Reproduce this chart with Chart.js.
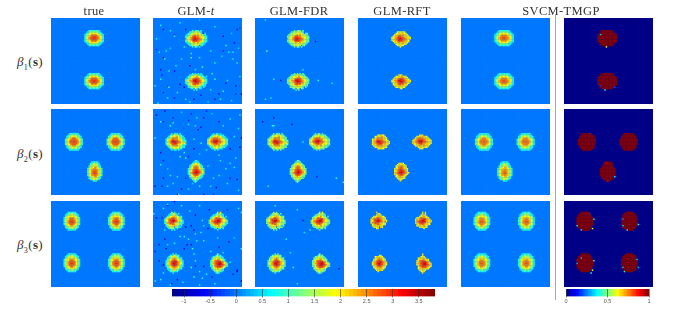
<!DOCTYPE html>
<html>
<head>
<meta charset="utf-8">
<title>Estimated coefficient maps</title>
<script src="https://cdn.jsdelivr.net/npm/chart.js@4"></script>
<style>
html, body { margin: 0; padding: 0; background: #fff; overflow: hidden; }
#page { position: relative; width: 684px; height: 312px; font-family: "Liberation Serif", serif; color: #333; }
#page canvas { position: absolute; }
.head { position: absolute; top: 4px; font-size: 12.5px; letter-spacing: 0.35px; transform: translateX(-50%); white-space: nowrap; }
.rowlab { position: absolute; left: 17px; font-size: 13px; letter-spacing: 0.35px; white-space: nowrap; }
.rowlab sub { font-size: 8px; line-height: 0; }
#divider { position: absolute; left: 555px; top: 15px; width: 1px; height: 285px; background: #a8a8a8; }
</style>
</head>
<body>
<div id="page"><div id="divider"></div></div>
<script>
// column heads and row labels
const methodLabels = ['true', 'GLM-<i>t</i>', 'GLM-FDR', 'GLM-RFT', 'SVCM-TMGP'];
const methodLabelX = [94, 196, 299, 402, 561];
const rowNames = ['1', '2', '3'];
const rowLabelY = [54, 146, 237];

// panel placement
const columnX = [51, 153, 255, 358, 461, 564];
const rowY = [18, 109, 201];
const panelW = 89;
const panelH = 86;
const gridSize = 64;

// colour bars
const mapTicks = [-1, -0.5, 0, 0.5, 1, 1.5, 2, 2.5, 3, 3.5];
const mapRange = [-1.23, 3.81];
const probTicks = [0, 0.5, 1];
const probRange = [0, 1];

// blob centres [col, row] on the 64 x 64 grid, for each row of panels
const centres = [
    [[31, 15], [31, 47]],
    [[16, 24], [46, 24], [31, 46]],
    [[15, 15], [47, 15], [15, 46], [47, 46]]
];

// smooth blobs, digits are the level
const blobWide = [
    '...11111111...',
    '..1122222211..',
    '.112333333211.',
    '11233444433211',
    '12334555543321',
    '12345566554321',
    '12345566554321',
    '12334555543321',
    '11233444433211',
    '.112333333211.',
    '..1122222211..',
    '...11111111...'
];
const blobRound = [
    '...1111111...',
    '..112222211..',
    '.11233332211.',
    '.12334443321.',
    '1233455543321',
    '1234555554321',
    '1234556554321',
    '1234555554321',
    '1233455543321',
    '.12334443321.',
    '.11233332211.',
    '..112222211..',
    '...1111111...'
];
const blobTall = [
    '...11111...',
    '..1122211..',
    '..1223221..',
    '.122333221.',
    '.123344321.',
    '12334443321',
    '12344544321',
    '12345554321',
    '12345654321',
    '12345554321',
    '12344544321',
    '.123344321.',
    '.122333221.',
    '..1223221..',
    '....111....'
];
const blobCorner = [
    '...111111...',
    '..11222211..',
    '.1122332211.',
    '.1233333321.',
    '123344443321',
    '123345543321',
    '123455554321',
    '123456654321',
    '123455554321',
    '123345543321',
    '.1233443321.',
    '.1223333221.',
    '..11222211..',
    '...111111...'
];

// noisy blobs of the voxel-wise fits, one per spot
const noisy1A = [
    '.....1.111.1....',
    '...112223221....',
    '..1122333322.11.',
    '.11233343433211.',
    '1123345544333211',
    '1223456655433321',
    '.233456765543321',
    '1233457665443211',
    '1123345554433211',
    '.11233433433211.',
    '..112233332211..',
    '...1122322.11...',
    '.....1.21.1.....'
];
const noisy1B = [
    '.....1.1.1.1....',
    '...1113231111...',
    '..112333433211..',
    '.11233344433211.',
    '1123345665433211',
    '1234457766543321',
    '1223456776543321',
    '1123345665443211',
    '.12334554533211.',
    '..1233343332111.',
    '..1122323221.1..',
    '....11.32.11....',
    '......1.1.......'
];
const noisy2A = [
    '....1.111.1....',
    '...112332211...',
    '..12333343211..',
    '.1123444433211.',
    '12334544433211.',
    '133456655433211',
    '123467765543321',
    '133456675443331',
    '123345554333211',
    '.1233444433311.',
    '..123333332211.',
    '...112332211...',
    '....1.11.1.....'
];
const noisy2B = [
    '....1.11.1.....',
    '...112331111...',
    '..12333433211..',
    '.1234444333211.',
    '133455554433211',
    '234466765433321',
    '334567765543331',
    '333456654433321',
    '123344544333211',
    '.1233433433211.',
    '..11233332211..',
    '...11232111....',
    '.....1.1.......'
];
const noisy2C = [
    '.....11.....',
    '....1111....',
    '...123321...',
    '..12333321..',
    '.1233443321.',
    '.1234554321.',
    '123345543321',
    '123456654321',
    '123456765431',
    '134567765432',
    '123456654321',
    '.1234554321.',
    '.1233433211.',
    '..12333221..',
    '...12321....',
    '....131.....',
    '.....1......'
];
const noisy3A = [
    '.....3.1......',
    '....11321.1...',
    '...1123321....',
    '..12333433211.',
    '.123345443321.',
    '1334556543321.',
    '13346677543321',
    '12345676543131',
    '13446554332211',
    '.123445433221.',
    '.1233334321.1.',
    '..12323.3211..',
    '...11231.1....',
    '.....1.1......'
];
const noisy3B = [
    '......3.3.....',
    '.....13131....',
    '...11233211...',
    '..112334321.1.',
    '.12335443321..',
    '.233455664331.',
    '13445677543331',
    '13456677643331',
    '13345665433211',
    '.133445433321.',
    '.12333343211..',
    '..112323321...',
    '....11.21.1...',
    '......1.......'
];
const noisy3C = [
    '.....1.1.....',
    '...1113211...',
    '..12333221...',
    '.11233433211.',
    '.12334543321.',
    '1123456543311',
    '1234566754331',
    '1334577654331',
    '1234567654321',
    '1123456543211',
    '.12334443321.',
    '.11233433211.',
    '..11233321...',
    '...112111....',
    '.....1.......'
];
const noisy3D = [
    '.....3.......',
    '....1311.....',
    '..1123211....',
    '.123333211...',
    '.1233443321..',
    '13345554321..',
    '123456675431.',
    '1344667764331',
    '1234567765431',
    '1134566654321',
    '.1234555432..',
    '.123343332...',
    '..12333211...',
    '...123211....',
    '....131......'
];

// what each digit stands for, one list per method
const trueLevels = [0, 0.85, 1.45, 1.95, 2.4, 2.75, 3.0, 3.0];
const glmTLevels = [0, 0.85, 1.4, 1.95, 2.4, 2.75, 3.0, 3.3];
const fdrLevels = [0, 1.2, 1.55, 1.95, 2.4, 2.75, 3.0, 3.3];
const rftLevels = [0, 0, 1.85, 2.1, 2.4, 2.75, 3.0, 3.3];
const svcmLevels = [0, 0.8, 1.35, 1.85, 2.3, 2.6, 2.85, 2.85];
const probLevels = [0, 1, 1, 1, 1, 1, 1, 1];

// isolated voxels [col, row, value]
const tSpecks1 = [
    [7,8,-.75],[23,8,-.75],[36,11,-.45],[50,13,-.75],[60,8,-.75],[62,7,-.35],[15,12,-.45],[7,29,-.75],[26,35,-.85],[50,24,-.45],
    [58,18,-.75],[5,38,-.75],[6,42,-.45],[15,39,-.75],[22,51,-.75],[52,48,-.45],[59,50,-.75],[47,56,-.75],[59,56,-.45],[63,56,-.75],
    [15,59,-.45],[29,60,-.75],[34,57,-.45],[44,60,-.75],[2,23,-.35],[19,49,-.75],[7,55,-.45],[10,50,-.35],
    [5,5,.7],[12,9,.6],[15,13,.8],[4,25,.6],[9,24,.7],[8,30,.9],[22,21,.6],[27,26,.8],[27,29,1],[41,24,.6],
    [33,29,.7],[54,25,.7],[57,25,.6],[52,20,.8],[57,30,.6],[35,36,.9],[42,41,.7],[16,35,.6],[11,39,.8],[5,45,.7],
    [11,51,1],[10,59,.7],[23,60,.6],[50,54,.9],[53,46,.7],[44,45,.8],[41,53,.6],[62,43,.7],[3,63,.8],
    [19,3,.6],[33,1,.5],[44,6,.6],[56,11,.5],[2,15,.7],[12,22,.5],[20,30,.6],[44,33,.7],[49,28,.5],[60,33,.6],
    [30,38,.6],[38,43,.8],[24,44,.5],[17,55,.7],[26,62,.6],[39,62,.5],[48,60,.7],[56,61,.6],[1,50,.6],[61,22,.5]
];
const tSpecks2 = [
    [2,4,-.85],[8,1,-.75],[14,6,-.45],[7,9,-.75],[25,8,-.45],[36,6,-.75],[38,1,-.45],[47,9,-.75],[27,3,-.45],[32,15,-.85],
    [34,13,-.75],[55,29,-.75],[62,28,-.75],[29,29,-.75],[25,35,-.45],[5,32,-.75],[7,38,-.45],[7,51,-.85],[20,59,-.75],[36,63,-.95],
    [55,51,-.45],[60,52,-.75],[17,63,-.75],[6,57,-.45],[45,58,-.75],[23,51,-.45],[63,21,-.75],[1,57,-.75],[43,63,-.45],
    [5,9,.8],[14,10,.7],[25,11,.7],[12,12,.9],[30,12,.6],[1,21,.7],[9,26,.6],[50,12,.7],[55,7,.6],[61,14,.7],
    [62,4,.8],[29,22,.6],[34,25,.7],[38,30,.6],[19,35,1],[23,36,.9],[47,34,.7],[12,49,.7],[17,50,.6],[5,41,.7],
    [39,42,.6],[43,51,.7],[47,49,.7],[55,40,.6],[58,43,.7],[53,55,.7],[41,57,.6],[33,57,.8],[10,57,.7],[18,63,.7],
    [25,59,.6],[52,44,.7],
    [20,2,.5],[31,6,.6],[42,3,.5],[58,20,.6],[22,32,.7],[33,33,.5],[48,38,.6],[59,36,.7],[10,44,.5],[14,55,.6],[28,55,.5],[61,60,.6]
];
const tSpecks3 = [
    [10,3,-.45],[15,0,-.75],[2,12,-.75],[6,12,-.45],[30,10,-.75],[40,6,-.75],[53,6,-.45],[27,18,-.75],[23,19,-.45],[39,20,-.75],
    [29,21,-.75],[8,28,-.75],[4,32,-.75],[24,32,-.85],[27,32,-.75],[47,34,-.45],[54,30,-.75],[1,37,-.45],[22,35,-.75],[9,35,-.45],
    [4,44,-.75],[7,47,-.75],[30,48,-.45],[36,48,-.75],[60,51,-.85],[60,52,-.85],[17,58,-.75],[42,56,-.45],[57,54,-.75],[13,61,-.45],
    [63,59,-.75],
    [10,2,.8],[7,5,.7],[20,3,.8],[33,3,.7],[61,5,.8],[35,14,.7],[63,8,.7],[22,26,.7],[19,26,.8],[30,24,.8],
    [34,23,.7],[25,28,.8],[31,29,.7],[36,29,.8],[15,31,.7],[10,32,.6],[28,35,.9],[29,39,.8],[30,44,.9],[27,49,1],
    [33,52,.8],[38,54,.7],[29,56,.9],[35,57,.8],[7,53,.8],[5,58,.9],[1,59,.8],[63,35,.7],[0,9,.7],[55,45,.7],[8,21,.6],
    [26,7,.6],[36,18,.7],[46,27,.6],[58,27,.5],[41,37,.7],[50,38,.6],[33,62,.7],[44,61,.8],[21,60,.7],[12,62,.6]
];
const fdrSpecks1 = [[7,1,.7],[8,24,1.1],[43,17,-.9],[34,38,.7],[13,45,.7],[18,46,-.9],[45,46,.9],[55,48,.6],[7,60,.7],[11,59,.6]];
const fdrSpecks2 = [[5,9,-.7],[13,6,-.9],[26,11,-.7],[12,12,.8],[13,12,.8],[34,24,.7],[44,50,-.6],[58,51,.9],[63,54,.8],[9,57,.7]];
const fdrSpecks3 = [[14,3,.8],[30,6,.7],[34,14,-.7],[35,23,.6],[39,21,.7],[22,28,.8],[25,38,.6],[27,49,.9],[60,50,-.7],[30,61,.7]];
const probSpecks1 = [[30,21,.6],[26,50,.2],[29,53,.4],[36,51,.2],[26,12,.35]];
const probSpecks2 = [[18,18,.2],[30,40,.9],[31,53,.9],[36,50,.35]];
const probSpecks3 = [
    [9,18,.4],[12,21,.35],[20,20,.6],[21,13,.35],[18,9,.2],[42,18,.4],[45,21,.35],[53,17,.4],[42,13,.3],
    [12,42,.35],[9,46,.3],[21,44,.4],[20,51,.6],[19,53,.4],[42,49,.35],[43,52,.4],[52,43,.35],[53,49,.3]
];

// which blob goes on which spot, per method
const smoothShapes = [[blobWide, blobWide], [blobRound, blobRound, blobTall], [blobCorner, blobCorner, blobCorner, blobCorner]];
const noisyShapes = [[noisy1A, noisy1B], [noisy2A, noisy2B, noisy2C], [noisy3A, noisy3B, noisy3C, noisy3D]];
const noSpecks = [[], [], []];

const methods = [
    { shapes: smoothShapes, levels: trueLevels, specks: noSpecks, range: mapRange },
    { shapes: noisyShapes, levels: glmTLevels, specks: [tSpecks1, tSpecks2, tSpecks3], range: mapRange },
    { shapes: noisyShapes, levels: fdrLevels, specks: [fdrSpecks1, fdrSpecks2, fdrSpecks3], range: mapRange },
    { shapes: noisyShapes, levels: rftLevels, specks: noSpecks, range: mapRange },
    { shapes: smoothShapes, levels: svcmLevels, specks: noSpecks, range: mapRange },
    { shapes: smoothShapes, levels: probLevels, specks: [probSpecks1, probSpecks2, probSpecks3], range: probRange }
];

function clamp01(v) {
    return Math.max(0, Math.min(1, v));
}

// 64 step jet, same as the matlab one
function jet(t) {
    t = (Math.min(63, Math.floor(clamp01(t) * 64)) + 0.5) / 64;
    var r = clamp01(Math.min(4 * t - 1.5, -4 * t + 4.5));
    var g = clamp01(Math.min(4 * t - 0.5, -4 * t + 3.5));
    var b = clamp01(Math.min(4 * t + 0.5, -4 * t + 2.5));
    return 'rgb(' + Math.round(r * 255) + ',' + Math.round(g * 255) + ',' + Math.round(b * 255) + ')';
}

function buildCells(method, rowIndex) {
    var cells = [];
    for (var i = 0; i < gridSize * gridSize; i++) cells.push(0);

    centres[rowIndex].forEach((centre, k) => {
        var shape = method.shapes[rowIndex][k];
        var width = Math.max(...shape.map(s => s.length));
        var left = centre[0] - Math.floor(width / 2);
        var top = centre[1] - Math.floor(shape.length / 2);
        shape.forEach((line, r) => {
            for (var c = 0; c < line.length; c++) {
                var level = parseInt(line[c]);
                if (level > 0) cells[(top + r) * gridSize + left + c] = method.levels[level];
            }
        });
    });

    method.specks[rowIndex].forEach(s => {
        cells[s[1] * gridSize + s[0]] = s[2];
    });
    return cells;
}

function addCanvas(x, y, w, h) {
    var canvas = document.createElement('canvas');
    canvas.width = w;
    canvas.height = h;
    canvas.style.left = x + 'px';
    canvas.style.top = y + 'px';
    canvas.style.width = w + 'px';
    canvas.style.height = h + 'px';
    document.getElementById('page').appendChild(canvas);
    return canvas;
}

function drawPanel(method, rowIndex, x, y) {
    var cells = buildCells(method, rowIndex);
    var span = method.range[1] - method.range[0];

    // background voxels first, the squares overlap a little and would cover the small specks
    var order = cells.map((value, i) => i);
    order.sort((a, b) => (cells[a] === 0 ? 0 : 1) - (cells[b] === 0 ? 0 : 1));

    var points = [];
    var colors = [];
    order.forEach(i => {
        points.push({ x: i % gridSize + 0.5, y: Math.floor(i / gridSize) + 0.5 });
        colors.push(jet((cells[i] - method.range[0]) / span));
    });

    var canvas = addCanvas(x, y, panelW, panelH);
    canvas.style.backgroundColor = jet((0 - method.range[0]) / span);
    new Chart(canvas.getContext('2d'), {
        type: 'scatter',
        data: {
            datasets: [{
                data: points,
                pointStyle: 'rect',
                pointRadius: 1.05,
                pointBorderWidth: 0,
                pointBackgroundColor: colors
            }]
        },
        options: {
            responsive: false,
            animation: false,
            events: [],
            layout: { padding: 0, autoPadding: false },
            plugins: { legend: { display: false }, tooltip: { enabled: false } },
            scales: {
                x: { display: false, min: 0, max: gridSize },
                y: { display: false, min: 0, max: gridSize, reverse: true }
            }
        }
    });
}

function drawColorBar(x, w, barLeft, barRight, range, ticks) {
    var canvas = addCanvas(x, 285, w, 24);
    new Chart(canvas.getContext('2d'), {
        type: 'bar',
        data: {
            labels: [''],
            datasets: [{
                data: [range],
                barPercentage: 1,
                categoryPercentage: 1,
                borderWidth: 0,
                backgroundColor: function (context) {
                    var area = context.chart.chartArea;
                    if (!area) return '#0080ff';
                    var gradient = context.chart.ctx.createLinearGradient(area.left, 0, area.right, 0);
                    for (var i = 0; i < 64; i++) {
                        gradient.addColorStop(i / 64, jet((i + 0.5) / 64));
                        gradient.addColorStop((i + 1) / 64, jet((i + 0.5) / 64));
                    }
                    return gradient;
                }
            }]
        },
        options: {
            indexAxis: 'y',
            responsive: false,
            animation: false,
            events: [],
            layout: { padding: { left: barLeft - x, right: x + w - barRight, top: 4, bottom: 5 }, autoPadding: false },
            plugins: { legend: { display: false }, tooltip: { enabled: false } },
            scales: {
                y: { display: false },
                x: {
                    min: range[0],
                    max: range[1],
                    border: { display: false },
                    grid: { color: 'rgba(40,40,40,0.55)', z: 1, drawTicks: true, tickLength: 1 },
                    afterBuildTicks: function (scale) {
                        scale.ticks = ticks.map(v => ({ value: v }));
                    },
                    ticks: {
                        padding: 1,
                        maxRotation: 0,
                        autoSkip: false,
                        color: '#555',
                        font: { family: 'Liberation Sans', size: 5.5 },
                        callback: function (value) {
                            return String(value);
                        }
                    }
                }
            }
        }
    });
}

function addText() {
    var page = document.getElementById('page');
    methodLabels.forEach((label, i) => {
        var el = document.createElement('div');
        el.className = 'head';
        el.style.left = methodLabelX[i] + 'px';
        el.innerHTML = label;
        page.appendChild(el);
    });
    rowNames.forEach((name, i) => {
        var el = document.createElement('div');
        el.className = 'rowlab';
        el.style.top = rowLabelY[i] + 'px';
        el.innerHTML = '<i>&beta;</i><sub>' + name + '</sub>(<b>s</b>)';
        page.appendChild(el);
    });
}

methods.forEach((method, m) => {
    rowY.forEach((y, r) => {
        drawPanel(method, r, columnX[m], y);
    });
});
drawColorBar(160, 290, 172, 435, mapRange, mapTicks);
drawColorBar(556, 102, 566, 649, probRange, probTicks);
addText();
</script>
</body>
</html>
